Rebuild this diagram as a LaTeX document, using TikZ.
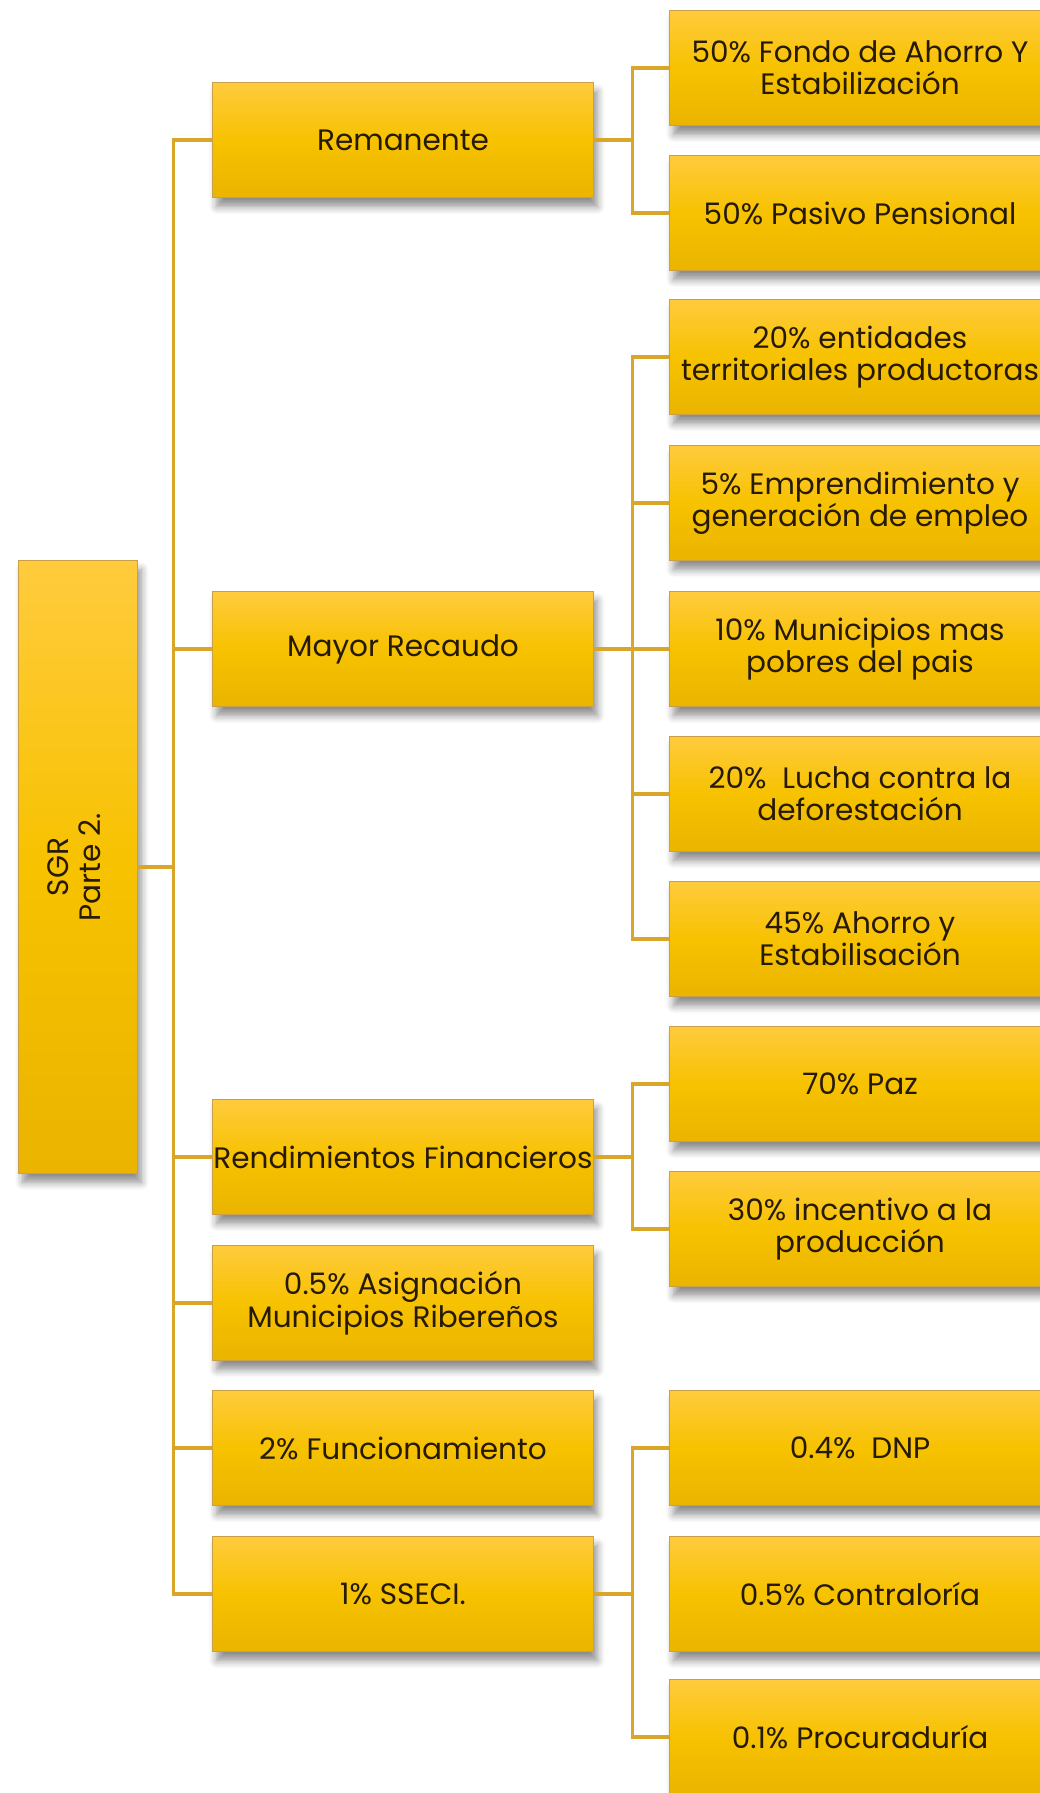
\documentclass[tikz,border=0pt]{standalone}
\usepackage{graphicx}
\usepackage{fontspec}
\setmainfont{Poppins}
\usetikzlibrary{positioning, shadows.blur}

\definecolor{goldmid}{HTML}{F7C200}
\definecolor{goldtop}{HTML}{FFCB3D}
\definecolor{goldbot}{HTML}{EAB400}
\definecolor{goldline}{HTML}{D9A62A}
\definecolor{goldedge}{HTML}{C8A04A}
\definecolor{ink}{HTML}{261A02}

\begin{document}
\begin{tikzpicture}[x=0.01cm, y=-0.01cm,
    box/.style={draw=goldedge, line width=0.3pt,
        top color=goldtop, bottom color=goldbot, middle color=goldmid,
        minimum width=3.8cm, minimum height=1.15cm, inner xsep=0pt,
        align=center, text=ink, font=\fontsize{8.4}{9.2}\selectfont,
        blur shadow={shadow xshift=0.4mm, shadow yshift=-0.9mm,
            shadow blur steps=6, shadow opacity=45}},
    link/.style={draw=goldline, line width=1pt}]
    \useasboundingbox (0,0) rectangle (1040,1793);

    % root
    \node[box, minimum width=1.18cm, minimum height=6.12cm] (sgr) at (78,867)
        {\rotatebox{90}{\begin{tabular}{@{}c@{}}SGR\\Parte 2.\end{tabular}}};

    % second level
    \node[box] (rem)   at (403,140)  {Remanente};
    \node[box] (mayor) at (403,649)  {Mayor Recaudo};
    \node[box] (rend)  at (403,1157) {Rendimientos Financieros};
    \node[box] (ribe)  at (403,1303) {0.5\% Asignación\\Municipios Ribereños};
    \node[box] (func)  at (403,1448) {2\% Funcionamiento};
    \node[box] (sseci) at (403,1594) {1\% SSECI.};

    % third level
    \node[box] (fondo)  at (860,68)   {50\% Fondo de Ahorro Y\\Estabilización};
    \node[box] (pasivo) at (860,213)  {50\% Pasivo Pensional};
    \node[box] (terr)   at (860,357)  {20\% entidades\\territoriales\ productoras};
    \node[box] (empr)   at (860,503)  {5\% Emprendimiento y\\generación de empleo};
    \node[box] (pobres) at (860,649)  {10\% Municipios mas\\pobres del pais};
    \node[box] (defo)   at (860,794)  {20\%\ \ Lucha contra la\\deforestación};
    \node[box] (ahorro) at (860,939)  {45\% Ahorro y\\Estabilisación};
    \node[box] (paz)    at (860,1084) {70\% Paz};
    \node[box] (incent) at (860,1229) {30\% incentivo a la\\producción};
    \node[box] (dnp)    at (860,1448) {0.4\%\ \ DNP};
    \node[box] (contra) at (860,1594) {0.5\% Contraloría};
    \node[box] (procu)  at (860,1737) {0.1\% Procuraduría};

    % trunk
    \draw[link] (sgr.east) -- ++(37,0);
    \draw[link] (rem.west) -- ++(-39,0) |- (sseci.west);
    \foreach \n in {mayor,rend,ribe,func}
        \draw[link] (\n.west) -- ++(-39,0);

    % branches
    \draw[link] (rem.east) -- ++(39,0) coordinate (remfork);
    \draw[link] (fondo.west) -| (remfork) |- (pasivo.west);

    \draw[link] (mayor.east) -- ++(39,0) coordinate (mayfork);
    \draw[link] (terr.west) -| (mayfork) |- (ahorro.west);
    \foreach \c in {empr,pobres,defo}
        \draw[link] (\c.west) -- (\c.west -| mayfork);

    \draw[link] (rend.east) -- ++(39,0) coordinate (rendfork);
    \draw[link] (paz.west) -| (rendfork) |- (incent.west);

    \draw[link] (sseci.east) -- ++(39,0) coordinate (ssefork);
    \draw[link] (dnp.west) -| (ssefork) |- (procu.west);
\end{tikzpicture}
\end{document}
